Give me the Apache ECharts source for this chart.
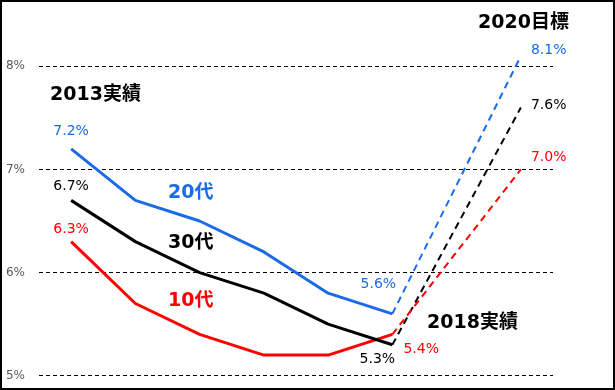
<!DOCTYPE html>
<html>
<head>
<meta charset="utf-8">
<script src="https://cdn.jsdelivr.net/npm/echarts@6/dist/echarts.min.js"></script>
<style>
html,body{margin:0;padding:0;background:#fff;}
#chart{width:615px;height:390px;}
</style>
</head>
<body>
<div id="chart"></div>
<script>
// ---- data ----
const categories = ['2013', '2014', '2015', '2016', '2017', '2018', '2019', '2020'];
const seriesNames = ['20代', '30代', '10代'];
const actual20 = [7.2, 6.7, 6.5, 6.2, 5.8, 5.6];
const actual30 = [6.7, 6.3, 6.0, 5.8, 5.5, 5.3];
const actual10 = [6.3, 5.7, 5.4, 5.2, 5.2, 5.4];
const target2020 = [8.1, 7.6, 7.0]; // 20代, 30代, 10代
const yTicks = [5, 6, 7, 8];

const colors = ['#1A6BE8', '#000000', '#FF0000'];
const FONT = '"DejaVu Sans", "Noto Sans CJK JP", sans-serif';

// label placement per series: [first point, 2018 point, 2020 point]
const labelCfg = [
  [{position: 'top', distance: 10}, {position: 'top', distance: 22, offset: [-14, 0]}, {position: 'right', distance: 10, offset: [0, -6]}],
  [{position: 'top', distance: 7}, {position: 'bottom', distance: 8, offset: [-15, 0]}, {position: 'right', distance: 10, offset: [0, -2]}],
  [{position: 'top', distance: 5}, {position: 'right', distance: 11, offset: [0, 15]}, {position: 'right', distance: 10, offset: [0, -12]}]
];

const actuals = [actual20, actual30, actual10];

function lbl(cfg, color) {
  return Object.assign({
    show: true, color: color, fontSize: 14, fontFamily: FONT,
    formatter: p => p.value.toFixed(1) + '%'
  }, cfg);
}

const series = [];
actuals.forEach((arr, i) => {
  const solid = categories.map((c, k) => {
    if (k >= arr.length) return null;
    const v = arr[k];
    if (k === 0) return {value: v, label: lbl(labelCfg[i][0], colors[i])};
    if (k === arr.length - 1) return {value: v, label: lbl(labelCfg[i][1], colors[i])};
    return v;
  });
  series.push({
    name: seriesNames[i], type: 'line', data: solid, symbol: 'circle', showSymbol: true,
    showAllSymbol: true, symbolSize: 0.01, clip: false, z: 8 - i,
    lineStyle: {color: colors[i], width: 3}, itemStyle: {color: colors[i]},
    label: {show: false}
  });
  const dashed = categories.map((c, k) => {
    if (k === arr.length - 1) return arr[k];
    if (k === categories.length - 1) return {value: target2020[i], label: lbl(labelCfg[i][2], colors[i])};
    return null;
  });
  series.push({
    name: seriesNames[i] + '目標', type: 'line', data: dashed, connectNulls: true,
    symbol: 'circle', showSymbol: true, showAllSymbol: true, symbolSize: 0.01, clip: false, z: 3,
    lineStyle: {color: colors[i], width: 2, type: [7, 5]}, itemStyle: {color: colors[i]},
    label: {show: false}
  });
});

const chart = echarts.init(document.getElementById('chart'), null, {renderer: 'canvas'});
const boldText = (text, x, y, color) => ({
  type: 'text', x: x, y: y, z: 100,
  style: {text: text, fill: color, font: 'bold 19px ' + FONT, textVerticalAlign: 'middle', textAlign: 'left'}
});
chart.setOption({
  animation: false,
  backgroundColor: '#fff',
  grid: {left: 39, right: 62, top: 66.3, bottom: 14.3, containLabel: false},
  xAxis: {type: 'category', data: categories, boundaryGap: true, show: false},
  yAxis: {
    type: 'value', min: yTicks[0], max: yTicks[yTicks.length - 1], interval: 1,
    axisLine: {show: false}, axisTick: {show: false},
    axisLabel: {formatter: v => v + '%', color: '#595959', fontSize: 12, fontFamily: FONT, margin: 14},
    splitLine: {show: true, lineStyle: {color: '#000', width: 1, type: [4, 3]}}
  },
  series: series,
  graphic: [
    {type: 'rect', shape: {x: 1, y: 1, width: 613, height: 388}, style: {fill: 'none', stroke: '#000', lineWidth: 2}, z: 100},
    boldText('2013実績', 50, 95, '#000'),
    boldText('2020目標', 478, 23, '#000'),
    boldText('2018実績', 427, 323, '#000'),
    boldText('20代', 168, 193, colors[0]),
    boldText('30代', 168, 243, colors[1]),
    boldText('10代', 168, 301, colors[2])
  ]
});
</script>
</body>
</html>
